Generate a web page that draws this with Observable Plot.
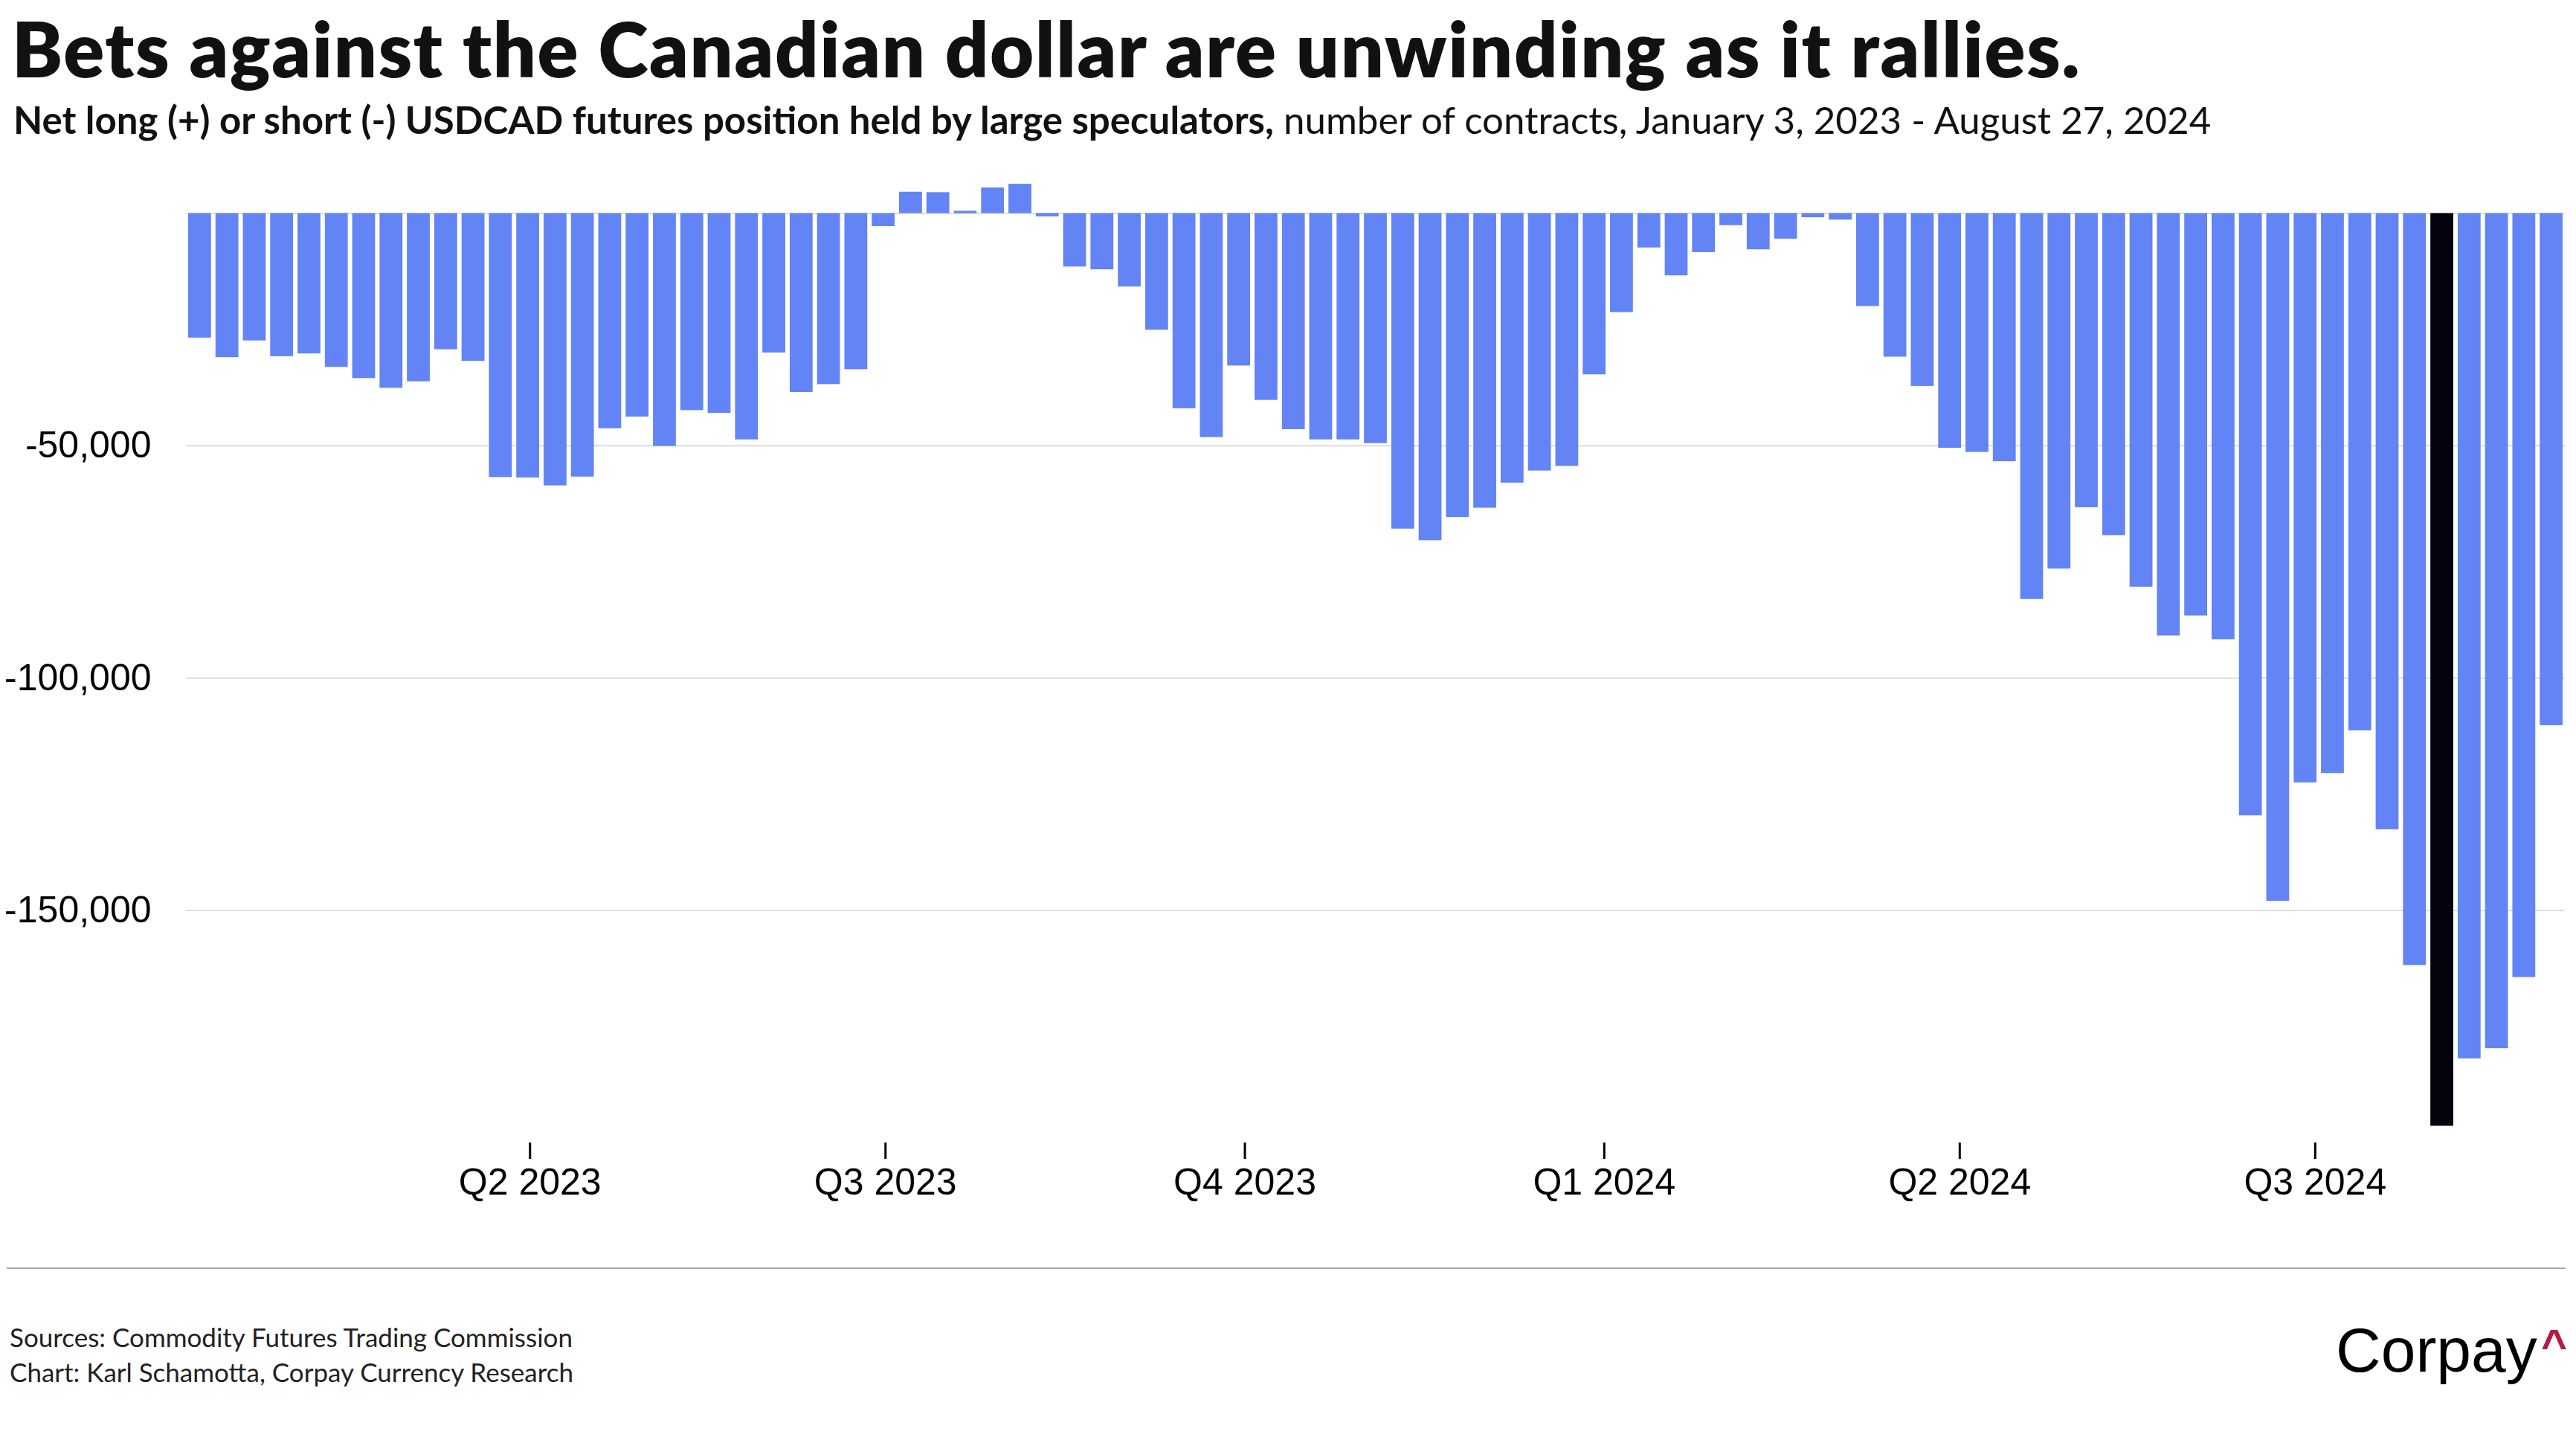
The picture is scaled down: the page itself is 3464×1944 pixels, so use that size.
<!DOCTYPE html>
<html>
<head>
<meta charset="utf-8">
<script src="https://cdn.jsdelivr.net/npm/d3@7"></script>
<script src="https://cdn.jsdelivr.net/npm/@observablehq/plot@0.6"></script>
<style>
  html, body { margin: 0; padding: 0; background: #fff; }
  #page { position: relative; width: 3464px; height: 1944px; overflow: hidden; background: #fff; }
  #head { position: absolute; left: 0; top: 0; }
  #chart { position: absolute; left: 0; top: 200px; }
  #foot { position: absolute; left: 0; top: 1680px; }
</style>
</head>
<body>
<div id="page">
  <svg id="head" width="3464" height="200">
    <text x="16" y="104" font-family="Lato" font-weight="800" font-size="102" letter-spacing="1.7" fill="#111">Bets against the Canadian dollar are unwinding as it rallies.</text>
    <text x="18" y="180" font-family="Lato" font-size="51" fill="#111"><tspan font-weight="700">Net long (+) or short (-) USDCAD futures position held by large speculators,</tspan> number of contracts, January 3, 2023 - August 27, 2024</text>
  </svg>
  <div id="chart"></div>
  <svg id="foot" width="3464" height="264">
    <line x1="9" x2="3450" y1="25" y2="25" stroke="#a8a8a8" stroke-width="2"></line>
    <text x="13" y="131" font-family="Lato" font-size="35" fill="#222">Sources: Commodity Futures Trading Commission</text>
    <text x="13" y="178" font-family="Lato" font-size="35" fill="#222">Chart: Karl Schamotta, Corpay Currency Research</text>
    <text x="3141" y="164" font-family="Liberation Sans" font-size="84" fill="#000">Corpay</text>
    <text x="3417" y="149" font-family="Liberation Sans" font-weight="700" font-size="60" fill="#b51c44">^</text>
  </svg>
</div>
<script>
// Weekly report dates (Tuesdays), Jan 3, 2023 - Aug 27, 2024
const firstDate = "2023-01-03";
const lastDate = "2024-08-27";
const highlightDate = "2024-07-30";

// Net USDCAD futures position of large speculators (contracts)
const values = [
  -26800, -31000, -27400, -30800, -30200, -33100, -35500, -37600, -36200, -29300,
  -31800, -56800, -56900, -58600, -56700, -46300, -43800, -50100, -42400, -43000,
  -48700, -30000, -38500, -36800, -33600, -2800, 4600, 4500, 500, 5500,
  6300, -700, -11500, -12100, -15800, -25100, -42000, -48200, -32800, -40200,
  -46500, -48700, -48700, -49500, -67900, -70400, -65400, -63400, -58000, -55400,
  -54400, -34700, -21300, -7400, -13400, -8400, -2600, -7800, -5500, -900,
  -1400, -20000, -30900, -37200, -50500, -51400, -53400, -83000, -76500, -63300,
  -69300, -80400, -90900, -86600, -91700, -129600, -148000, -122500, -120500, -111300,
  -132600, -161800, -196400, -181900, -179700, -164400, -110200
];

const yTicks = [-50000, -100000, -150000];
const quarterTicks = ["2023-04-01", "2023-07-01", "2023-10-01", "2024-01-01", "2024-04-01", "2024-07-01"];
const yDomain = [-200000, 10000];
const xDomain = ["2023-01-03", "2024-09-03"];

const barColor = "#6384f5";
const highlightColor = "#05030d";

const dates = d3.utcTuesday.range(new Date(firstDate), d3.utcDay.offset(new Date(lastDate), 1));
const data = dates.map((d, i) => ({ date: d, value: values[i] }));
const hl = +new Date(highlightDate);

const fmtQ = d => `Q${Math.floor(d.getUTCMonth() / 3) + 1} ${d.getUTCFullYear()}`;

const chart = Plot.plot({
  width: 3464,
  height: 1436,
  marginLeft: 250,
  marginRight: 15,
  marginTop: 24,
  marginBottom: 100,
  style: {
    fontFamily: "'Liberation Sans', Arial, sans-serif",
    fontSize: "50px",
    color: "#000",
    background: "transparent",
    overflow: "visible"
  },
  x: { type: "utc", domain: xDomain.map(d => new Date(d)) },
  y: { domain: yDomain },
  color: { type: "identity" },
  marks: [
    Plot.gridY(yTicks, { stroke: "#dcdcdc", strokeOpacity: 1, strokeWidth: 2 }),
    Plot.ruleY([0], { stroke: "#dcdcdc", strokeWidth: 2 }),
    Plot.rect(data, {
      x1: "date",
      x2: d => d3.utcDay.offset(d.date, 7),
      y1: 0,
      y2: "value",
      insetLeft: 3,
      insetRight: 3,
      fill: d => (+d.date === hl ? highlightColor : barColor)
    }),
    Plot.axisY(yTicks, {
      tickSize: 0,
      tickPadding: 47,
      label: null,
      tickFormat: d => d.toLocaleString("en-US")
    }),
    Plot.axisX(quarterTicks.map(d => new Date(d)), {
      tickSize: 22,
      tickPadding: 12,
      strokeWidth: 3,
      label: null,
      tickFormat: fmtQ
    })
  ]
});
document.getElementById("chart").appendChild(chart);
</script>
</body>
</html>
